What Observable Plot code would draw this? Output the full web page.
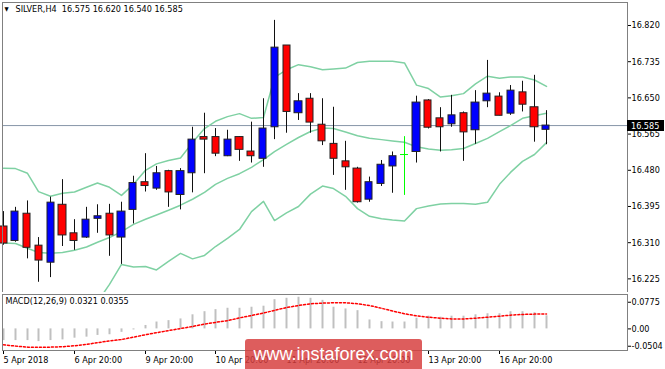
<!DOCTYPE html>
<html><head><meta charset="utf-8">
<script src="https://cdn.jsdelivr.net/npm/d3@7"></script>
<script src="https://cdn.jsdelivr.net/npm/@observablehq/plot@0.6"></script>
<style>
body{margin:0;background:#fff;}
#chart{position:relative;width:665px;height:369px;overflow:hidden;background:#fff;}
#main,#macd{position:absolute;left:0;}
#main{top:0}
#macd{top:292px}
#wm{position:absolute;left:245px;top:339px;width:177px;height:30px;background:rgba(214,62,62,0.84);border-radius:3px 3px 0 0;color:#fff;font:18px "Liberation Sans",Arial,sans-serif;line-height:30px;text-align:center;}
</style></head>
<body><div id="chart"><div id="main"></div><div id="macd"></div><div id="wm">www.instaforex.com</div></div>
<script>
// ---- data ----
const symbol = "SILVER,H4";
const open  = [16.348,16.314,16.378,16.303,16.263,16.399,16.332,16.322,16.366,16.378,16.322,16.387,16.452,16.437,16.478,16.422,16.473,16.558,16.558,16.513,16.558,16.524,16.507,16.581,16.773,16.614,16.648,16.587,16.542,16.501,16.484,16.411,16.448,16.489,16.517,16.523,16.644,16.602,16.588,16.614,16.574,16.642,16.653,16.613,16.663,16.628,16.575];
const high  = [16.383,16.393,16.408,16.322,16.417,16.458,16.364,16.393,16.399,16.400,16.405,16.466,16.519,16.489,16.480,16.484,16.581,16.614,16.578,16.574,16.559,16.593,16.648,16.832,16.773,16.660,16.660,16.648,16.628,16.548,16.487,16.464,16.503,16.523,16.559,16.654,16.646,16.627,16.656,16.617,16.667,16.738,16.662,16.679,16.689,16.703,16.620];
const low   = [16.304,16.311,16.272,16.217,16.228,16.301,16.292,16.320,16.332,16.278,16.259,16.354,16.429,16.433,16.393,16.387,16.427,16.472,16.512,16.512,16.501,16.497,16.487,16.552,16.567,16.597,16.567,16.538,16.468,16.433,16.403,16.405,16.442,16.426,16.421,16.497,16.577,16.523,16.581,16.501,16.541,16.627,16.608,16.609,16.617,16.546,16.540];
const close = [16.308,16.383,16.298,16.268,16.404,16.327,16.314,16.364,16.372,16.327,16.383,16.450,16.443,16.473,16.428,16.478,16.552,16.552,16.519,16.552,16.528,16.513,16.578,16.768,16.617,16.642,16.592,16.548,16.507,16.487,16.405,16.452,16.493,16.513,16.517,16.639,16.580,16.581,16.609,16.569,16.639,16.660,16.608,16.667,16.634,16.581,16.585];
const bandUpper  = [16.485,16.484,16.473,16.430,16.419,16.426,16.429,16.440,16.450,16.440,16.421,16.447,16.480,16.495,16.503,16.509,16.545,16.578,16.595,16.606,16.613,16.602,16.604,16.698,16.716,16.728,16.723,16.716,16.718,16.720,16.733,16.736,16.736,16.736,16.732,16.680,16.672,16.652,16.655,16.660,16.683,16.701,16.696,16.699,16.699,16.692,16.677];
const bandMiddle = [16.309,16.308,16.297,16.287,16.285,16.287,16.292,16.300,16.311,16.322,16.336,16.353,16.365,16.375,16.386,16.398,16.412,16.428,16.447,16.461,16.472,16.487,16.505,16.524,16.541,16.557,16.571,16.579,16.578,16.570,16.561,16.555,16.552,16.549,16.546,16.535,16.530,16.527,16.528,16.531,16.543,16.555,16.571,16.585,16.602,16.608,16.614];
const bandLower  = [16.132,16.132,16.120,16.144,16.151,16.149,16.155,16.160,16.171,16.212,16.259,16.253,16.254,16.246,16.266,16.285,16.272,16.280,16.301,16.320,16.341,16.383,16.407,16.362,16.380,16.395,16.424,16.443,16.437,16.419,16.390,16.372,16.366,16.363,16.361,16.390,16.396,16.401,16.402,16.402,16.400,16.405,16.447,16.475,16.501,16.517,16.545];
const macdMain   = [-0.034,-0.034,-0.034,-0.037,-0.034,-0.032,-0.027,-0.024,-0.019,-0.017,-0.010,-0.003,0.010,0.020,0.024,0.029,0.041,0.050,0.056,0.060,0.060,0.063,0.066,0.085,0.089,0.092,0.089,0.083,0.063,0.058,0.053,0.026,0.021,0.020,0.020,0.031,0.037,0.034,0.037,0.037,0.041,0.044,0.044,0.050,0.050,0.047,0.038];
const macdSignal = [-0.046,-0.050,-0.053,-0.053,-0.053,-0.052,-0.049,-0.045,-0.040,-0.035,-0.031,-0.024,-0.017,-0.011,-0.005,0.001,0.007,0.014,0.019,0.024,0.032,0.039,0.046,0.054,0.062,0.068,0.073,0.075,0.076,0.076,0.073,0.068,0.060,0.052,0.044,0.038,0.034,0.031,0.029,0.029,0.031,0.034,0.037,0.040,0.042,0.043,0.043];
const macdLabelValues = ["0.0321", "0.0355"];
const bidPrice = 16.585;
const priceTicks = [16.820,16.735,16.650,16.565,16.480,16.395,16.310,16.225];
const macdTicks = [0.0775, 0, -0.0504];
const macdTickLabels = ["0.0775", "0.00", "-0.0504"];
const dateTickIndex = [0,6,12,18,24,30,36,42];
const dateLabels = ["5 Apr 2018","6 Apr 20:00","9 Apr 20:00","10 Apr 20:00","11 Apr 20:00","12 Apr 20:00","13 Apr 20:00","16 Apr 20:00"];

// ---- build ----
const font = '"DejaVu Sans Condensed","DejaVu Sans",sans-serif';
const bandColor = "#7fd1a3";
const rows = open.map((o, i) => ({i, open: o, high: high[i], low: low[i], close: close[i],
  upper: bandUpper[i], middle: bandMiddle[i], lower: bandLower[i], macd: macdMain[i], signal: macdSignal[i]}));
const bull = rows.filter(d => d.close > d.open);
const bear = rows.filter(d => d.close < d.open);
const doji = rows.filter(d => d.close === d.open);
const notDoji = rows.filter(d => d.close !== d.open);
const xDomain = [-0.085, 52.88];
const f3 = d3.format(".3f");
const last = rows[rows.length - 1];
const title = symbol + "\u00a0\u00a0" + [last.open, last.high, last.low, last.close].map(f3).join(" ");
const ns = "http://www.w3.org/2000/svg";

function priceBox(index, scales, values, dimensions) {
  const y = Math.round(scales.y(bidPrice));
  const x0 = dimensions.width - dimensions.marginRight;
  const g = document.createElementNS(ns, "g");
  const r = document.createElementNS(ns, "rect");
  r.setAttribute("x", x0); r.setAttribute("y", y - 5);
  r.setAttribute("width", dimensions.marginRight - 1); r.setAttribute("height", 11);
  r.setAttribute("fill", "#000");
  const t = document.createElementNS(ns, "text");
  t.setAttribute("x", x0 + 4); t.setAttribute("y", y + 0.5);
  t.setAttribute("dy", "0.35em"); t.setAttribute("fill", "#fff");
  t.setAttribute("text-anchor", "start");
  t.textContent = f3(bidPrice);
  g.appendChild(r); g.appendChild(t);
  return g;
}

const main = Plot.plot({
  width: 665, height: 292,
  marginLeft: 2, marginRight: 38, marginTop: 2, marginBottom: 0,
  style: {fontFamily: font, fontSize: "9px", color: "#000", background: "transparent"},
  x: {domain: xDomain, axis: null, round: true},
  y: {domain: [16.193, 16.874]},
  marks: [
    Plot.ruleY([bidPrice], {stroke: "#8796a8"}),
    Plot.line(rows, {x: "i", y: "upper", stroke: bandColor, clip: true}),
    Plot.line(rows, {x: "i", y: "middle", stroke: bandColor, clip: true}),
    Plot.line(rows, {x: "i", y: "lower", stroke: bandColor, clip: true}),
    Plot.ruleX(notDoji, {x: "i", y1: "low", y2: "high", stroke: "#111"}),
    Plot.rect(bull, {x1: d => d.i - 0.3, x2: d => d.i + 0.3, y1: "open", y2: "close", fill: "#0000ff", stroke: "#222"}),
    Plot.rect(bear, {x1: d => d.i - 0.3, x2: d => d.i + 0.3, y1: "open", y2: "close", fill: "#ff0000", stroke: "#222"}),
    Plot.ruleX(doji, {x: "i", y1: "low", y2: "high", stroke: "#00ff00"}),
    Plot.ruleY(doji, {y: "open", x1: d => d.i - 0.35, x2: d => d.i + 0.35, stroke: "#00ff00"}),
    Plot.axisY({anchor: "right", ticks: priceTicks, tickFormat: f3, tickSize: 3, tickPadding: 1, label: null}),
    Plot.frame({stroke: "#808080"}),
    Plot.text(["\u25BC"], {frameAnchor: "top-left", dx: 2, dy: 4, fontSize: 6, text: d => d}),
    Plot.text([title], {frameAnchor: "top-left", dx: 13, dy: 3, text: d => d}),
    priceBox
  ]
});
document.getElementById("main").appendChild(main);

const macdPlot = Plot.plot({
  width: 665, height: 77,
  marginLeft: 2, marginRight: 38, marginTop: 2, marginBottom: 19,
  style: {fontFamily: font, fontSize: "9px", color: "#000", background: "transparent"},
  x: {domain: xDomain, round: true},
  y: {domain: [-0.0628, 0.1000]},
  marks: [
    Plot.ruleX(rows, {x: "i", y1: 0, y2: "macd", stroke: "#c0c0c0", strokeWidth: 2}),
    Plot.line(rows, {x: "i", y: "signal", stroke: "#ff0000", strokeDasharray: "2,2", clip: true}),
    Plot.axisY({anchor: "right", ticks: macdTicks, tickFormat: d => macdTickLabels[macdTicks.indexOf(d)], tickSize: 3, tickPadding: 1, label: null}),
    Plot.axisX({anchor: "bottom", ticks: dateTickIndex, tickFormat: d => dateLabels[dateTickIndex.indexOf(d)], tickSize: 4, tickPadding: 2, textAnchor: "start", label: null}),
    Plot.frame({stroke: "#808080"}),
    Plot.text(["MACD(12,26,9) " + macdLabelValues.join(" ")], {frameAnchor: "top-left", dx: 3, dy: 3, text: d => d})
  ]
});
document.getElementById("macd").appendChild(macdPlot);
</script>
</body></html>
